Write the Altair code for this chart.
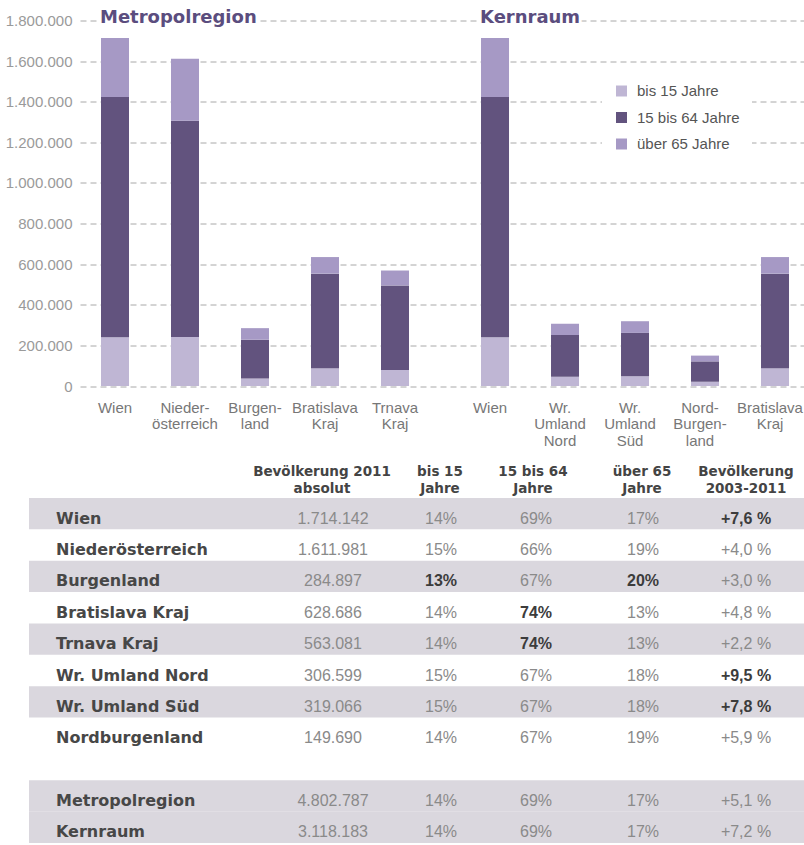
import altair as alt
import pandas as pd

# ------------------------------------------------------------------ data
regions = ["Wien", "Niederösterreich", "Burgenland", "Bratislava Kraj", "Trnava Kraj",
           "Wr. Umland Nord", "Wr. Umland Süd", "Nordburgenland", "Metropolregion", "Kernraum"]
population = [1714142, 1611981, 284897, 628686, 563081, 306599, 319066, 149690, 4802787, 3118183]
share_u15 = [14, 15, 13, 14, 14, 15, 15, 14, 14, 14]
share_mid = [69, 66, 67, 74, 74, 67, 67, 67, 69, 69]
share_o65 = [17, 19, 20, 13, 13, 18, 18, 19, 17, 17]
change_0311 = ["+7,6 %", "+4,0 %", "+3,0 %", "+4,8 %", "+2,2 %", "+9,5 %", "+7,8 %", "+5,9 %", "+5,1 %", "+7,2 %"]

age_groups = ["bis 15 Jahre", "15 bis 64 Jahre", "über 65 Jahre"]
age_colors = ["#bfb6d4", "#62537e", "#a699c5"]

metro_members = ["Wien", "Niederösterreich", "Burgenland", "Bratislava Kraj", "Trnava Kraj"]
metro_labels = ["Wien", "Nieder-|österreich", "Burgen-|land", "Bratislava|Kraj", "Trnava|Kraj"]
kern_members = ["Wien", "Wr. Umland Nord", "Wr. Umland Süd", "Nordburgenland", "Bratislava Kraj"]
kern_labels = ["Wien", "Wr.|Umland|Nord", "Wr.|Umland|Süd", "Nord-|Burgen-|land", "Bratislava|Kraj"]

y_ticks = [0, 200000, 400000, 600000, 800000, 1000000, 1200000, 1400000, 1600000, 1800000]

header_1 = ["Bevölkerung 2011", "bis 15", "15 bis 64", "über 65", "Bevölkerung"]
header_2 = ["absolut", "Jahre", "Jahre", "Jahre", "2003-2011"]
col_keys = ["abs", "u15", "mid", "o65", "chg"]
bold_cells = [("Wien", "chg"), ("Burgenland", "u15"), ("Burgenland", "o65"),
              ("Bratislava Kraj", "mid"), ("Trnava Kraj", "mid"),
              ("Wr. Umland Nord", "chg"), ("Wr. Umland Süd", "chg")]
row_slots = [0, 1, 2, 3, 4, 5, 6, 7, 9, 10]      # slot 8 is the blank row
shaded_slots = [0, 2, 4, 6, 9, 10]

# ---------------------------------------------------------------- layout
FONT = "Liberation Sans, Arial, Helvetica, sans-serif"
WIDE = "DejaVu Sans, Verdana, sans-serif"
PURPLE = "#5b4d7e"
ORIGIN_X = 80                          # page x of the plot origin (table is aligned to it)
col_x = [333, 441, 536, 643, 746]      # page x of table value column centres
head_x = [322, 440, 533, 642, 746]     # page x of header centres


def bar_df(members, labels):
    rows = []
    for m, lab in zip(members, labels):
        i = regions.index(m)
        for k, (g, s) in enumerate(zip(age_groups, [share_u15[i], share_mid[i], share_o65[i]])):
            rows.append({"label": lab, "group": g, "k": k, "value": population[i] * s / 100})
    return pd.DataFrame(rows)


color = alt.Color(
    "group:N",
    scale=alt.Scale(domain=age_groups, range=age_colors),
    legend=alt.Legend(title=None, orient="none", legendX=602 - ORIGIN_X, legendY=51,
                      symbolType="square", symbolSize=121, symbolStrokeWidth=0,
                      labelFontSize=15, labelColor="#555555", labelFont=FONT,
                      rowPadding=10.5, labelOffset=8, fillColor="white", padding=12),
)

grid_kw = dict(grid=True, gridDash=[6, 4], gridColor="#a8a8a8", gridWidth=1,
               ticks=False, domain=False, title=None)


def panel(members, labels, title, title_x, width, sc, left):
    df = bar_df(members, labels)
    if left:
        yax = alt.Axis(values=y_ticks, labelExpr="replace(format(datum.value, ','), /,/g, '.')",
                       labelFontSize=15, labelColor="#9a9a9a", labelFont=FONT, labelPadding=8,
                       minExtent=80, maxExtent=80, **grid_kw)
    else:
        yax = alt.Axis(values=y_ticks, labels=False, minExtent=0, maxExtent=0, **grid_kw)
    xax = alt.Axis(title=None, labelAngle=0, labelExpr="split(datum.label, '|')",
                   ticks=False, domain=False, labelFontSize=15, labelColor="#777777",
                   labelFont=FONT, labelPadding=14, labelLineHeight=16.5,
                   labelOverlap=False, labelOffset=0 if left else -5)
    bars = alt.Chart(df).mark_bar().encode(
        x=alt.X("label:N", sort=labels, scale=sc, axis=xax),
        y=alt.Y("value:Q", stack="zero", scale=alt.Scale(domain=[0, 1800000], nice=False), axis=yax),
        color=color,
        order=alt.Order("k:Q"),
    )
    tdf = pd.DataFrame({"t": [title]})
    halo = alt.Chart(tdf).mark_text(align="left", baseline="middle", font=WIDE, fontSize=18,
                                    fontWeight="bold", fill="white",
                                    stroke="white", strokeWidth=6).encode(
        text="t:N", x=alt.value(title_x), y=alt.value(-3))
    ttl = alt.Chart(tdf).mark_text(align="left", baseline="middle", font=WIDE, fontSize=18,
                                   fontWeight="bold", color=PURPLE).encode(
        text="t:N", x=alt.value(title_x), y=alt.value(-3))
    return alt.layer(bars, halo, ttl).properties(width=width, height=365.5)


left = panel(metro_members, metro_labels, "Metropolregion", 20, 350,
             alt.Scale(paddingInner=0.6, paddingOuter=0.3), True)
right = panel(kern_members, kern_labels, "Kernraum", 50, 374,
              alt.Scale(paddingInner=0.6, paddingOuter=0.4714, align=0.773), False)

top = alt.hconcat(left, right, spacing=0).resolve_scale(x="independent", y="independent", color="shared")

# ----------------------------------------------------------------- table
trows = []
for slot, i in zip(row_slots, range(len(regions))):
    name = regions[i]
    vals = [f"{population[i]:,}".replace(",", "."), f"{share_u15[i]}%", f"{share_mid[i]}%",
            f"{share_o65[i]}%", change_0311[i]]
    for ck, v in zip(col_keys, vals):
        trows.append({"slot": slot, "name": name, "col": ck, "text": v,
                      "bold": (name, ck) in bold_cells})
tdf = pd.DataFrame(trows)
names_df = pd.DataFrame({"slot": row_slots, "name": regions})
shade_df = pd.DataFrame({"slot": shaded_slots})
head_df = pd.DataFrame({"col": col_keys, "h1": header_1, "h2": header_2})

yscale = alt.Scale(domain=list(range(11)), paddingInner=0, paddingOuter=0)
Y = alt.Y("slot:O", scale=yscale, axis=None)
TW = 804 - ORIGIN_X

layers = [
    alt.Chart(shade_df).mark_rect(color="#dad7de").encode(
        y=Y, x=alt.value(29 - ORIGIN_X), x2=alt.value(TW)),
    alt.Chart(names_df).mark_text(align="left", baseline="middle", dy=5, font=WIDE, fontSize=16,
                                  fontWeight="bold", color="#474747").encode(
        y=Y, x=alt.value(56 - ORIGIN_X), text="name:N"),
]
for ck, cx, hx in zip(col_keys, col_x, head_x):
    cx = cx - ORIGIN_X
    hx = hx - ORIGIN_X
    layers.append(alt.Chart(tdf).transform_filter(
        f"datum.col == '{ck}' && !datum.bold").mark_text(
        align="center", baseline="middle", dy=5, font=FONT, fontSize=16, color="#8a8a8a").encode(
        y=Y, x=alt.value(cx), text="text:N"))
    layers.append(alt.Chart(tdf).transform_filter(
        f"datum.col == '{ck}' && datum.bold").mark_text(
        align="center", baseline="middle", dy=5, font=FONT, fontSize=16, fontWeight="bold",
        color="#3c3c3c").encode(y=Y, x=alt.value(cx), text="text:N"))
    for fld, yy in (("h1", -26), ("h2", -9)):
        layers.append(alt.Chart(head_df).transform_filter(f"datum.col == '{ck}'").mark_text(
            align="center", baseline="middle", font=WIDE, fontSize=13.5, fontWeight="bold",
            color="#444444").encode(x=alt.value(hx), y=alt.value(yy), text=f"{fld}:N"))

table = alt.layer(*layers).properties(width=TW, height=345)

chart = alt.vconcat(top, table, spacing=16.5).resolve_scale(
    x="independent", y="independent", color="shared"
).properties(padding={"left": 0, "top": 8.5, "right": 0, "bottom": 0}).configure_view(stroke=None)

chart.save("out.html", embed_options={"renderer": "svg", "actions": False})
